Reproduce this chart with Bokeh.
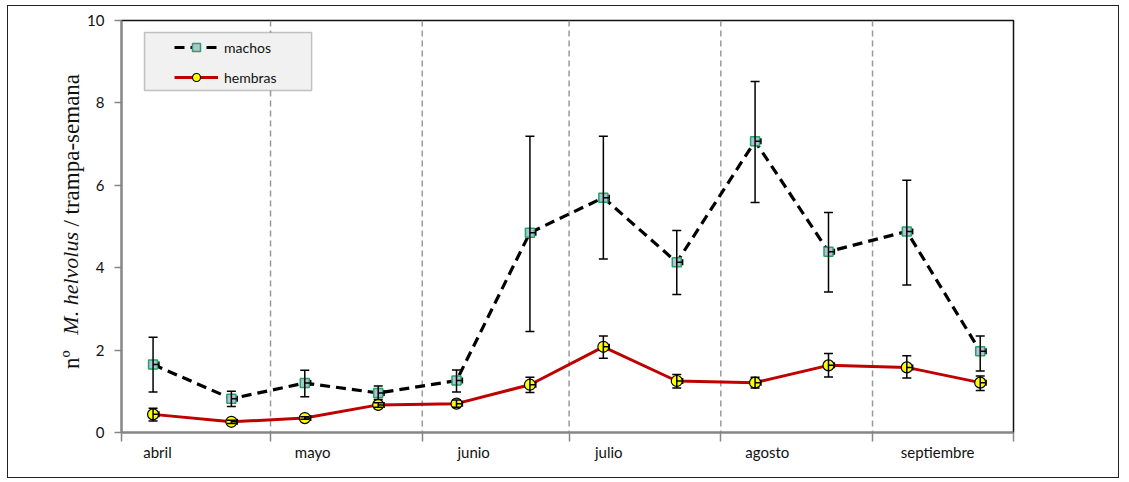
from bokeh.plotting import figure
from bokeh.models import (ColumnDataSource, Whisker, TeeHead, Span, Legend,
                          LegendItem, FixedTicker, BoxAnnotation, Range1d, LinearAxis)
from bokeh.embed import file_html
from bokeh.resources import INLINE

# ---- data (x = days since 1 April) ----
dias = [6, 22, 37, 52, 68, 83, 98, 113, 129, 144, 160, 175]
machos = [1.65, 0.82, 1.20, 0.96, 1.26, 4.85, 5.70, 4.13, 7.07, 4.39, 4.88, 1.97]
machos_sup = [2.31, 1.00, 1.51, 1.13, 1.52, 7.19, 7.19, 4.90, 8.52, 5.34, 6.12, 2.34]
machos_inf = [0.98, 0.63, 0.87, 0.80, 0.98, 2.45, 4.21, 3.35, 5.58, 3.41, 3.58, 1.49]
hembras = [0.44, 0.26, 0.35, 0.67, 0.70, 1.16, 2.08, 1.25, 1.21, 1.63, 1.58, 1.21]
hembras_sup = [0.59, 0.30, 0.38, 0.72, 0.79, 1.34, 2.34, 1.41, 1.34, 1.92, 1.86, 1.37]
hembras_inf = [0.28, 0.22, 0.32, 0.61, 0.61, 0.97, 1.80, 1.08, 1.08, 1.35, 1.32, 1.02]
x_err = [1.2] * 12

meses = ["abril", "mayo", "junio", "julio", "agosto", "septiembre"]
meses_pos = [6.9, 38.6, 71.5, 99.1, 131.5, 166.3]
inicio_mes = [30, 61, 91, 122, 153]
y_ticks = [0, 2, 4, 6, 8, 10]

# y-axis title pieces (species name in italics) and where they sit along the axis
titulo_normal = {1.77: "nº", 6.85: "/ trampa-semana"}
titulo_cursiva = {3.62: "M. helvolus"}

X0, X1 = -0.45, 181.8

p = figure(width=1112, height=473, output_backend="svg", toolbar_location=None,
           x_range=Range1d(X0, X1), y_range=Range1d(0, 10),
           min_border_left=113, min_border_top=14, min_border_right=107, min_border_bottom=47)
p.styles = {"border": "1px solid #222", "margin-left": "7px", "margin-top": "5px"}
p.xgrid.visible = False
p.ygrid.visible = False
p.outline_line_color = "#111"
p.outline_line_width = 1.5
p.background_fill_color = "white"
p.border_fill_color = "white"

# axes
p.yaxis.ticker = FixedTicker(ticks=y_ticks)
p.yaxis.axis_line_color = "#868686"
p.yaxis.axis_line_width = 2
p.yaxis.major_tick_line_color = "#868686"
p.yaxis.major_tick_line_width = 1.5
p.yaxis.major_tick_out = 7
p.yaxis.major_tick_in = 0
p.yaxis.minor_tick_line_color = None
p.yaxis.major_label_standoff = 10
p.yaxis.major_label_text_font = "Lato"
p.yaxis.major_label_text_font_size = "15px"
p.yaxis.major_label_text_color = "#111"

for labels, style, standoff, size in ((titulo_normal, "normal", 0, "23px"),
                                      (titulo_cursiva, "italic", -27, "22px")):
    ax = LinearAxis(ticker=FixedTicker(ticks=list(labels.keys())),
                    major_label_overrides=labels,
                    major_label_orientation="vertical",
                    axis_line_color=None, major_tick_line_color=None,
                    minor_tick_line_color=None, major_tick_out=0, major_tick_in=0,
                    major_label_standoff=standoff, major_label_text_font="Liberation Serif",
                    major_label_text_font_style=style,
                    major_label_text_font_size=size, major_label_text_color="#111")
    p.add_layout(ax, "left")

p.xaxis.ticker = FixedTicker(ticks=[X0] + inicio_mes + [X1])
p.xaxis.axis_line_color = "#868686"
p.xaxis.axis_line_width = 2
p.xaxis.major_tick_line_color = "#868686"
p.xaxis.major_tick_line_width = 1.5
p.xaxis.major_tick_out = 9
p.xaxis.major_tick_in = 0
p.xaxis.minor_tick_line_color = None
p.xaxis.major_label_text_font_size = "0px"
p.xaxis.major_label_standoff = 0
p.xaxis.major_label_text_color = None

month_axis = LinearAxis(ticker=FixedTicker(ticks=meses_pos),
                        major_label_overrides={pos: name for pos, name in zip(meses_pos, meses)},
                        axis_line_color=None, major_tick_line_color=None,
                        minor_tick_line_color=None, major_tick_out=0, major_tick_in=0,
                        major_label_standoff=1, major_label_text_font="Lato",
                        major_label_text_font_size="15px", major_label_text_color="#111")
p.add_layout(month_axis, "below")

# month separators
for m in inicio_mes:
    p.add_layout(Span(location=m, dimension="height", line_color="#9a9a9a",
                      line_width=1.5, line_dash="6 4", level="underlay"))

src_m = ColumnDataSource(dict(x=dias, y=machos, up=machos_sup, lo=machos_inf,
                              xr=[d + e for d, e in zip(dias, x_err)]))
src_h = ColumnDataSource(dict(x=dias, y=hembras, up=hembras_sup, lo=hembras_inf,
                              xr=[d + e for d, e in zip(dias, x_err)]))

lh = p.line("x", "y", source=src_h, line_color="#c00000", line_width=3)
lm = p.line("x", "y", source=src_m, line_color="black", line_width=3.2, line_dash="10 6")

for src in (src_m, src_h):
    w = Whisker(base="x", upper="up", lower="lo", source=src, dimension="height",
                line_color="black", line_width=1.5, level="glyph",
                upper_head=TeeHead(size=9, line_color="black", line_width=1.5),
                lower_head=TeeHead(size=9, line_color="black", line_width=1.5))
    p.add_layout(w)
    wx = Whisker(base="y", upper="xr", lower="x", source=src, dimension="width",
                 line_color="black", line_width=1.5, level="glyph",
                 upper_head=TeeHead(size=6, line_color="black", line_width=1.5),
                 lower_head=None)
    p.add_layout(wx)

sm = p.scatter("x", "y", source=src_m, marker="square", size=9,
               fill_color="#b4c0d6", line_color="#1fa864", line_width=1.5)
sh = p.scatter("x", "y", source=src_h, marker="circle", size=11,
               fill_color="#ffff00", line_color="black", line_width=1.2)

# legend box + legend
p.add_layout(BoxAnnotation(left=4.25, right=38.4, top=9.71, bottom=8.30,
                           fill_color="#f1f1f1", fill_alpha=1,
                           line_color="#404040", line_width=1.5, level="annotation"))
legend = Legend(items=[LegendItem(label="machos", renderers=[lm, sm]),
                       LegendItem(label="hembras", renderers=[lh, sh])],
                location=(53, 345), padding=0, spacing=10,
                glyph_width=44, glyph_height=20, label_height=20, label_standoff=6,
                label_text_font="Lato", label_text_font_size="14px",
                label_text_color="#111",
                background_fill_alpha=0, border_line_color=None)
p.add_layout(legend)

open("out.html", "w").write(file_html(p, INLINE))
